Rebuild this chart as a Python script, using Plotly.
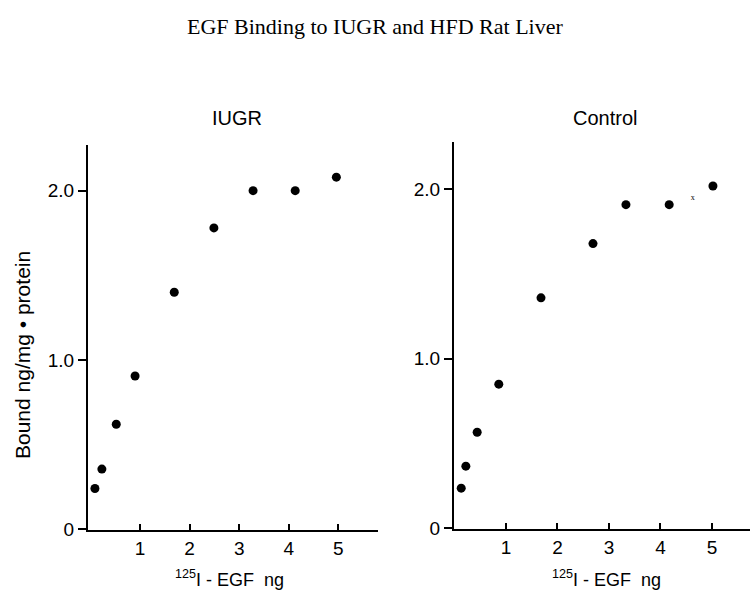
import plotly.graph_objects as go

# Data
iugr_x = [0.09, 0.23, 0.52, 0.90, 1.69, 2.49, 3.28, 4.13, 4.96]
iugr_y = [0.24, 0.355, 0.62, 0.905, 1.40, 1.78, 2.00, 2.00, 2.08]

ctrl_x = [0.13, 0.22, 0.44, 0.86, 1.68, 2.69, 3.33, 4.17, 5.02]
ctrl_y = [0.236, 0.366, 0.566, 0.85, 1.36, 1.68, 1.91, 1.91, 2.02]

stray_x = [4.63]
stray_y = [1.95]

x_ticks = [1, 2, 3, 4, 5]
x_ticktext = ["1", "2", "3", "4", "5"]
y_ticks = [0, 1, 2]
y_ticktext = ["0", "1.0", "2.0"]

W, H = 750, 594
SANS = "Liberation Sans Narrow, Liberation Sans, Arial, Helvetica, sans-serif"
SANS2 = "Liberation Sans, Arial, Helvetica, sans-serif"

fig = go.Figure()
fig.add_trace(go.Scatter(x=iugr_x, y=iugr_y, mode="markers", xaxis="x", yaxis="y",
                         marker=dict(color="black", size=9), showlegend=False))
fig.add_trace(go.Scatter(x=ctrl_x, y=ctrl_y, mode="markers", xaxis="x2", yaxis="y2",
                         marker=dict(color="black", size=9), showlegend=False))
fig.add_trace(go.Scatter(x=stray_x, y=stray_y, mode="text", text=["x"], xaxis="x2", yaxis="y2",
                         textfont=dict(size=8, color="black", family="Liberation Serif"),
                         showlegend=False))


def axis(**kw):
    base = dict(showline=True, linecolor="black", linewidth=2, showgrid=False,
                zeroline=False, tickcolor="black", tickwidth=1.5, automargin=False,
                tickfont=dict(family=SANS, size=19, color="black"))
    base.update(kw)
    return base


def ann(text, x, y, size, family=SANS2, angle=0):
    return dict(text=text, x=x / W, y=(H - y) / H, xref="paper", yref="paper",
                showarrow=False, xanchor="center", yanchor="middle", textangle=angle,
                font=dict(family=family, size=size, color="black"))


fig.update_layout(
    width=W, height=H,
    margin=dict(l=0, r=0, t=0, b=0, autoexpand=False),
    paper_bgcolor="white", plot_bgcolor="white",
    xaxis=axis(domain=[88 / W, 378 / W], range=[-0.05, 5.8],
               tickvals=x_ticks, ticktext=x_ticktext, ticks="inside", ticklen=6,
               anchor="y"),
    yaxis=axis(domain=[(H - 530) / H, (H - 145) / H], range=[-0.005, 2.27],
               tickvals=y_ticks, ticktext=y_ticktext, ticks="outside", ticklen=8, anchor="x"),
    xaxis2=axis(domain=[454 / W, 1.0], range=[-0.01, 5.74],
                tickvals=x_ticks, ticktext=x_ticktext, ticks="inside", ticklen=6,
                anchor="y2"),
    yaxis2=axis(domain=[(H - 529) / H, (H - 142) / H], range=[-0.005, 2.28],
                tickvals=y_ticks, ticktext=y_ticktext, ticks="outside", ticklen=8, anchor="x2"),
    annotations=[
        ann("EGF Binding to IUGR and HFD Rat Liver", 375, 27, 22,
            family="Liberation Serif, Times New Roman, serif"),
        ann("IUGR", 237, 118, 20),
        ann("Control", 605, 118, 20),
        ann("<sup>125</sup>I - EGF  ng", 230, 578, 18),
        ann("<sup>125</sup>I - EGF  ng", 606, 578, 18),
        ann("Bound ng/mg • protein", 22, 355, 21, angle=-90),
    ],
)

fig.write_html("out.html", config={"displayModeBar": False},
               post_script="document.body.style.margin='0';")
